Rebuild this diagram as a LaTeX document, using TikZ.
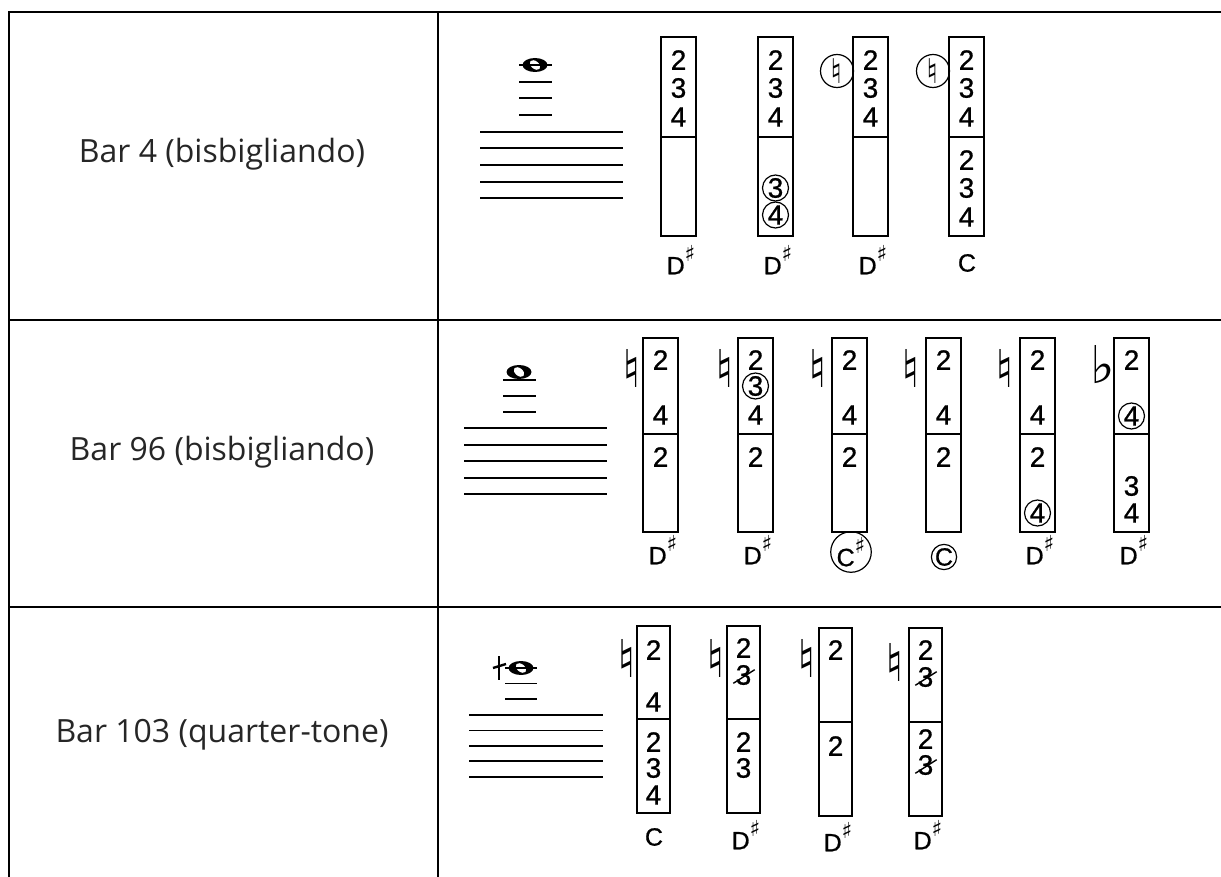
\documentclass[tikz,border=0pt]{standalone}
\usepackage{fontspec}
\setmainfont{Open Sans}
\newfontfamily\digfont[FakeBold=0.8]{Liberation Sans}
\newfontfamily\symfont{DejaVu Sans}
\usetikzlibrary{positioning}
\tikzset{
  tabline/.style={line width=1.1pt},
  fbox/.style={draw,line width=0.9pt},
  staffline/.style={line width=0.9pt},
  digit/.style={font=\digfont\fontsize{14}{14}\selectfont,inner sep=0pt},
  ringed/.style={digit,circle,draw,line width=0.6pt,minimum size=13pt},
  barlabel/.style={font=\fontsize{16}{19}\selectfont,text=black!85},
  notelbl/.style={font=\digfont\fontsize{12.5}{12.5}\selectfont,inner sep=0pt},
  accid/.style={font=\symfont\fontsize{26}{26}\selectfont,inner sep=0pt},
  ringnat/.style={circle,draw,line width=0.6pt,inner sep=0pt,minimum size=16.5pt,font=\symfont\fontsize{17}{17}\selectfont}
}
\newcommand{\shrp}{\raisebox{0.5em}{\symfont\fontsize{11}{11}\selectfont ♯}}
\newcommand{\fingbox}[5][35]{\draw[fbox] (#2,#3) rectangle (#2+#1,#5); \draw[fbox] (#2,#4) -- (#2+#1,#4);}
\newcommand{\staff}[4]{\foreach \k in {0,...,4} \draw[staffline] (#1,#3+\k*#4) -- (#2,#3+\k*#4);}
\newcommand{\wholenote}[2]{\fill (#1,#2) ellipse (12.5 and 7); \fill[white,rotate around={-40:(#1,#2)}] (#1,#2) ellipse (6 and 3.8);}
\newcommand{\fdig}[4]{\node[digit] (#1) at (#2,#3) {#4};}
\newcommand{\rdig}[4]{\node[ringed] (#1) at (#2,#3) {#4};}
\newcommand{\xdig}[4]{\node[digit] (#1) at (#2,#3) {#4}; \draw[line width=0.7pt] ([xshift=-1pt,yshift=1pt]#1.south west) -- ([xshift=1.5pt,yshift=-2.5pt]#1.north east);}

\begin{document}
\begin{tikzpicture}[x=0.5pt,y=-0.5pt]
\useasboundingbox (0,0) rectangle (1221,877);
\draw[tabline] (9,877) -- (9,12) -- (1221,12);
\draw[tabline] (438,12) -- (438,877);
\draw[tabline] (9,320) -- (1221,320);
\draw[tabline] (9,607) -- (1221,607);
\node[barlabel] (bar4) at (222,154) {Bar 4 (bisbigliando)};
\node[barlabel] (bar96) at (222,452) {Bar 96 (bisbigliando)};
\node[barlabel] (bar103) at (222,735) {Bar 103 (quarter-tone)};

\staff{480}{623}{131.7}{16.67}
\wholenote{535}{65}
\foreach \y in {65,81.7,98.3,115} \draw[staffline] (519,\y) -- (552,\y);
\fingbox{661}{37}{137}{236} \fingbox{758}{37}{137}{236} \fingbox{853}{37}{137}{236} \fingbox{949}{37}{137}{236}
\fdig{a1u2}{678.5}{60}{2} \fdig{a1u3}{678.5}{88}{3} \fdig{a1u4}{678.5}{117}{4}
\fdig{a2u2}{775.5}{60}{2} \fdig{a2u3}{775.5}{88}{3} \fdig{a2u4}{775.5}{117}{4} \rdig{a2l3}{775.5}{188}{3} \rdig{a2l4}{775.5}{215}{4}
\fdig{a3u2}{870.5}{60}{2} \fdig{a3u3}{870.5}{88}{3} \fdig{a3u4}{870.5}{117}{4}
\fdig{a4u2}{966.5}{60}{2} \fdig{a4u3}{966.5}{88}{3} \fdig{a4u4}{966.5}{117}{4} \fdig{a4l2}{966.5}{160}{2} \fdig{a4l3}{966.5}{188}{3} \fdig{a4l4}{966.5}{217}{4}
\node[ringnat] (a3nat) at (837,71) {♮}; \node[ringnat] (a4nat) at (933,71) {♮};
\node[notelbl] (a1note) at (681,260) {D\shrp}; \node[notelbl] (a2note) at (778,260) {D\shrp};
\node[notelbl] (a3note) at (873,260) {D\shrp}; \node[notelbl] (a4note) at (967,263) {C};

\staff{464}{607}{428.3}{16.5}
\wholenote{519}{372}
\foreach \y in {380,396,412} \draw[staffline] (503,\y) -- (536,\y);
\fingbox{643}{338}{434}{532} \fingbox{738}{338}{434}{532} \fingbox{832}{338}{434}{532} \fingbox{926}{338}{434}{532} \fingbox{1020}{338}{434}{532} \fingbox{1114}{338}{434}{532}
\fdig{b1u2}{660.5}{360}{2} \fdig{b1u4}{660.5}{415}{4} \fdig{b1l2}{660.5}{457}{2}
\fdig{b2u2}{755.5}{360}{2} \rdig{b2u3}{755.5}{386}{3} \fdig{b2u4}{755.5}{415}{4} \fdig{b2l2}{755.5}{457}{2}
\fdig{b3u2}{849.5}{360}{2} \fdig{b3u4}{849.5}{415}{4} \fdig{b3l2}{849.5}{457}{2}
\fdig{b4u2}{943.5}{360}{2} \fdig{b4u4}{943.5}{415}{4} \fdig{b4l2}{943.5}{457}{2}
\fdig{b5u2}{1037.5}{360}{2} \fdig{b5u4}{1037.5}{415}{4} \fdig{b5l2}{1037.5}{457}{2} \rdig{b5l4}{1037.5}{513}{4}
\fdig{b6u2}{1131.5}{360}{2} \rdig{b6u4}{1131.5}{416}{4} \fdig{b6l3}{1131.5}{486}{3} \fdig{b6l4}{1131.5}{513}{4}
\node[accid] (b1nat) at (632,368) {♮}; \node[accid] (b2nat) at (725,368) {♮}; \node[accid] (b3nat) at (818,368) {♮};
\node[accid] (b4nat) at (911,368) {♮}; \node[accid] (b5nat) at (1005,368) {♮}; \node[accid] (b6flat) at (1103,365) {♭};
\node[notelbl] (b1note) at (663,550) {D\shrp}; \node[notelbl] (b2note) at (758,550) {D\shrp};
\node[notelbl,circle,draw,line width=0.6pt,minimum size=16pt] (b3note) at (851,552) {C\shrp};
\node[notelbl,circle,draw,line width=0.6pt,minimum size=12.5pt] (b4note) at (944,557) {C};
\node[notelbl] (b5note) at (1040,550) {D\shrp}; \node[notelbl] (b6note) at (1134,550) {D\shrp};

\staff{469}{603}{715}{15.4}
\wholenote{521}{668}
\foreach \y in {668,683.5,699.3} \draw[staffline] (505,\y) -- (537,\y);
\draw[line width=1.2pt] (499,656) -- (499,680); \draw[line width=1.2pt] (493,668) -- (506,664);
\fingbox[33]{637}{626}{719}{813} \fingbox[33]{727}{626}{719}{813} \fingbox[33]{819}{628}{722}{816} \fingbox[33]{909}{628}{722}{816}
\fdig{c1u2}{653.5}{650}{2} \fdig{c1u4}{653.5}{702}{4} \fdig{c1l2}{653.5}{742}{2} \fdig{c1l3}{653.5}{768}{3} \fdig{c1l4}{653.5}{795}{4}
\fdig{c2u2}{743.5}{648}{2} \xdig{c2u3}{743.5}{675}{3} \fdig{c2l2}{743.5}{742}{2} \fdig{c2l3}{743.5}{768}{3}
\fdig{c3u2}{835.5}{650}{2} \fdig{c3l2}{835.5}{746}{2}
\fdig{c4u2}{925.5}{650}{2} \xdig{c4u3}{925.5}{677}{3} \fdig{c4l2}{925.5}{739}{2} \xdig{c4l3}{925.5}{765}{3}
\node[accid] (c1nat) at (627,658) {♮}; \node[accid] (c2nat) at (716,658) {♮};
\node[accid] (c3nat) at (807,658) {♮}; \node[accid] (c4nat) at (895,662) {♮};
\node[notelbl] (c1note) at (654,837) {C}; \node[notelbl] (c2note) at (746,835) {D\shrp};
\node[notelbl] (c3note) at (838,837) {D\shrp}; \node[notelbl] (c4note) at (928,835) {D\shrp};
\end{tikzpicture}
\end{document}
